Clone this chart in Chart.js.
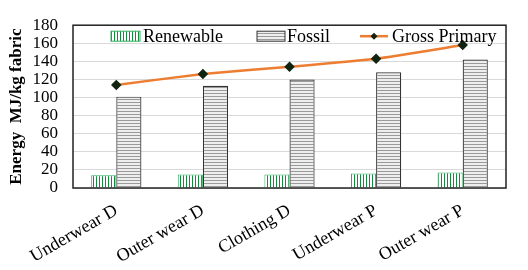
<!DOCTYPE html>
<html lang="en">
<head>
<meta charset="UTF-8">
<title>Energy chart</title>
<style>
  html,body{margin:0;padding:0;background:#fff;}
  #wrap{width:528px;height:270px;}
</style>
</head>
<body>
<div id="wrap"><canvas id="c1" width="528" height="270"></canvas></div>
<script src="https://cdn.jsdelivr.net/npm/chart.js"></script>
<script>
  "use strict";

  const categories = ["Underwear D", "Outer wear D", "Clothing D", "Underwear P", "Outer wear P"];
  const renewable = [14, 15, 15, 16, 17];
  const fossil = [101, 113, 120, 128, 142];
  const grossPrimary = [114, 126, 134, 143, 158];
  const yTicks = [0, 20, 40, 60, 80, 100, 120, 140, 160, 180];

  const serif = "'Liberation Serif', 'Times New Roman', serif";

  // stripe fills
  function stripes(vertical, bg, fg){
    const p = document.createElement("canvas");
    p.width = 3; p.height = 3;
    const c = p.getContext("2d");
    c.fillStyle = bg; c.fillRect(0, 0, 3, 3);
    c.fillStyle = fg;
    if (vertical) c.fillRect(0, 0, 1, 3); else c.fillRect(0, 0, 3, 1);
    return document.getElementById("c1").getContext("2d").createPattern(p, "repeat");
  }
  const greenFill = stripes(true, "#ffffff", "#138a3e");
  const grayFill = stripes(false, "#eeeeee", "#9a9a9a");

  // frame round the plot + legend inside it
  const frameAndLegend = {
    id: "frameAndLegend",
    afterDatasetsDraw(chart){
      const ctx = chart.ctx, a = chart.chartArea;
      ctx.save();
      ctx.strokeStyle = "#222";
      ctx.lineWidth = 1.5;
      ctx.strokeRect(a.left, a.top, a.right - a.left, a.bottom - a.top);

      const y = a.top + 11;
      ctx.font = "18px " + serif;
      ctx.textBaseline = "middle";
      ctx.fillStyle = "#000";

      // Renewable
      let x = a.left + 38;
      ctx.fillStyle = greenFill;
      ctx.fillRect(x, y - 5, 29, 10);
      ctx.strokeStyle = "#2fb060"; ctx.lineWidth = 1;
      ctx.strokeRect(x, y - 5, 29, 10);
      ctx.fillStyle = "#000";
      ctx.fillText("Renewable", x + 32, y + 1);

      // Fossil
      x = a.left + 184;
      ctx.fillStyle = grayFill;
      ctx.fillRect(x, y - 5, 28, 10);
      ctx.strokeStyle = "#333"; ctx.lineWidth = 1;
      ctx.strokeRect(x, y - 5, 28, 10);
      ctx.fillStyle = "#000";
      ctx.fillText("Fossil", x + 30, y + 1);

      // Gross Primary
      x = a.left + 287;
      ctx.strokeStyle = "#ed7d31"; ctx.lineWidth = 2.5;
      ctx.beginPath(); ctx.moveTo(x, y); ctx.lineTo(x + 28, y); ctx.stroke();
      ctx.fillStyle = "#10240f";
      ctx.beginPath();
      ctx.moveTo(x + 14, y - 3.5); ctx.lineTo(x + 17.5, y); ctx.lineTo(x + 14, y + 3.5); ctx.lineTo(x + 10.5, y);
      ctx.closePath(); ctx.fill();
      ctx.fillStyle = "#000";
      ctx.fillText("Gross Primary", x + 32, y + 1);
      ctx.restore();
    }
  };

  new Chart(document.getElementById("c1"), {
    type: "bar",
    data: {
      labels: categories,
      datasets: [
        {
          label: "Renewable",
          data: renewable,
          backgroundColor: greenFill,
          borderColor: "#2fb060",
          borderWidth: 1,
          order: 1
        },
        {
          label: "Fossil",
          data: fossil,
          backgroundColor: grayFill,
          borderColor: "#333",
          borderWidth: 1.2,
          order: 1
        },
        {
          type: "line",
          label: "Gross Primary",
          data: grossPrimary,
          borderColor: "#ed7d31",
          borderWidth: 2.5,
          tension: 0.15,
          pointStyle: "rectRot",
          pointRadius: 3.5,
          pointBackgroundColor: "#10240f",
          pointBorderColor: "#10240f",
          order: 0
        }
      ]
    },
    options: {
      responsive: false,
      animation: false,
      layout: { padding: { top: 8, right: 22, left: 0, bottom: 0 } },
      datasets: { bar: { categoryPercentage: 0.58, barPercentage: 1 } },
      plugins: {
        legend: { display: false },
        tooltip: { enabled: false }
      },
      scales: {
        x: {
          grid: { display: false, drawTicks: false },
          border: { display: false },
          ticks: {
            color: "#000",
            font: { family: serif, size: 18 },
            minRotation: 30,
            maxRotation: 30,
            padding: 12
          },
          afterFit(s){ s.height = 82; }
        },
        y: {
          min: 0,
          max: 180,
          afterBuildTicks(s){ s.ticks = yTicks.map(v => ({ value: v })); },
          grid: { color: "#d9d9d9", lineWidth: 1, drawTicks: false },
          border: { display: false },
          ticks: {
            color: "#000",
            font: { family: serif, size: 17 },
            padding: 15,
            autoSkip: false
          },
          title: {
            display: true,
            text: "Energy  MJ/kg fabric",
            color: "#000",
            font: { family: serif, size: 17, weight: "bold" },
            padding: { top: 6, bottom: 0 }
          },
          afterFit(s){ s.width = 73; }
        }
      }
    },
    plugins: [frameAndLegend]
  });
</script>
</body>
</html>
